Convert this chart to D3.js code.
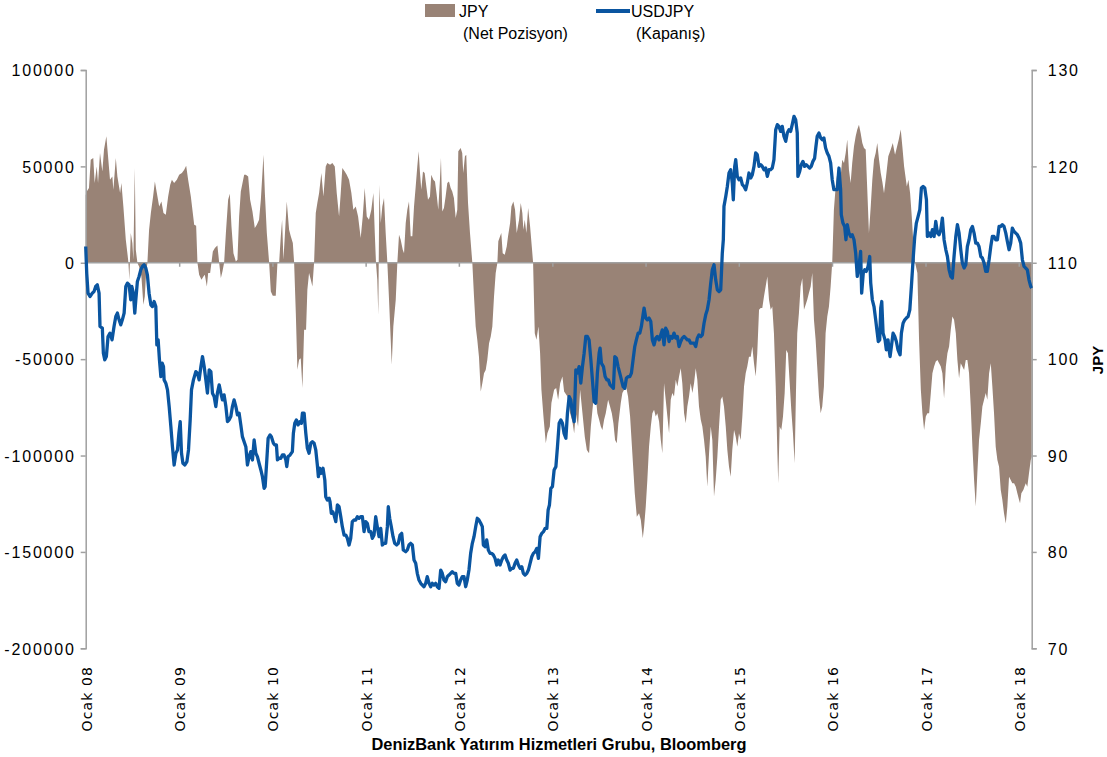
<!DOCTYPE html>
<html><head><meta charset="utf-8">
<script src="https://cdn.jsdelivr.net/npm/d3@7"></script>
<style>
body{margin:0;background:#fff;}
svg{display:block;}
.ylab{font-family:"Liberation Sans",Arial,sans-serif;font-size:16px;letter-spacing:1.8px;fill:#000;}
.xlab{font-family:"DejaVu Sans",Verdana,sans-serif;font-size:14px;fill:#000;letter-spacing:1.1px;}
.leg{font-family:"Liberation Sans",Arial,sans-serif;font-size:16px;fill:#000;}
.src{font-family:"Liberation Sans",Arial,sans-serif;font-size:16px;font-weight:bold;fill:#000;}
</style></head><body>
<svg id="c" width="1107" height="757"></svg>
<script>
const yearLabels = ["Ocak 08","Ocak 09","Ocak 10","Ocak 11","Ocak 12","Ocak 13","Ocak 14","Ocak 15","Ocak 16","Ocak 17","Ocak 18"];
const leftTicks = [100000,50000,0,-50000,-100000,-150000,-200000];
const rightTicks = [130,120,110,100,90,80,70];
const seriesNames = ["JPY","(Net Pozisyon)","USDJPY","(Kapanış)"];

// JPY net position (decimal year, contracts)
const jpyNet = [[2008.000,35000],[2008.011,37000],[2008.035,38800],[2008.054,53500],[2008.081,54300],[2008.096,41400],[2008.118,50000],[2008.132,41400],[2008.153,56900],[2008.178,47400],[2008.196,58700],[2008.221,65600],[2008.239,55200],[2008.260,43100],[2008.285,44800],[2008.296,37900],[2008.322,54300],[2008.339,44800],[2008.368,36200],[2008.382,41400],[2008.403,29200],[2008.429,11900],[2008.446,5000],[2008.457,0],[2008.467,-8800],[2008.482,15400],[2008.499,10200],[2008.510,1600],[2008.525,49100],[2008.536,6700],[2008.553,0],[2008.571,-1900],[2008.596,-7100],[2008.617,-21800],[2008.632,-17500],[2008.646,-5300],[2008.660,0],[2008.678,17100],[2008.697,25800],[2008.721,34400],[2008.740,42200],[2008.761,36200],[2008.786,29200],[2008.810,31800],[2008.832,25800],[2008.857,24900],[2008.882,34400],[2008.904,40500],[2008.922,43100],[2008.946,41400],[2008.975,43100],[2009.000,45700],[2009.029,46600],[2009.054,48300],[2009.075,50300],[2009.096,43100],[2009.125,34400],[2009.161,19700],[2009.182,19200],[2009.196,0],[2009.214,-6200],[2009.239,-8800],[2009.260,-7100],[2009.275,-6200],[2009.297,-12300],[2009.311,-5300],[2009.332,-5300],[2009.346,0],[2009.361,5900],[2009.383,7600],[2009.410,9000],[2009.429,0],[2009.447,-7900],[2009.464,-4500],[2009.482,0],[2009.501,15400],[2009.525,32700],[2009.543,35800],[2009.561,18800],[2009.582,5000],[2009.608,700],[2009.625,1600],[2009.643,24000],[2009.661,37000],[2009.697,45700],[2009.715,45700],[2009.740,44800],[2009.761,32700],[2009.786,26600],[2009.811,18000],[2009.833,19700],[2009.857,22300],[2009.876,32700],[2009.893,46600],[2009.904,56100],[2009.919,36200],[2009.940,15400],[2009.965,0],[2009.983,-14900],[2010.004,-17100],[2010.036,-17100],[2010.054,0],[2010.072,0],[2010.090,13800],[2010.104,22300],[2010.118,1600],[2010.133,13800],[2010.154,31800],[2010.179,17100],[2010.197,13800],[2010.219,10200],[2010.233,0],[2010.251,-26100],[2010.268,-55500],[2010.286,-50300],[2010.304,-49500],[2010.322,-65000],[2010.340,-34800],[2010.361,-34800],[2010.375,-14000],[2010.393,-5300],[2010.412,-8800],[2010.429,-12300],[2010.447,0],[2010.465,25800],[2010.482,31000],[2010.501,36200],[2010.525,46600],[2010.547,34400],[2010.572,50000],[2010.589,51700],[2010.618,50900],[2010.643,51700],[2010.669,50000],[2010.690,36200],[2010.715,24000],[2010.733,36200],[2010.750,49100],[2010.776,47400],[2010.797,45700],[2010.822,43100],[2010.847,36200],[2010.868,27500],[2010.894,29200],[2010.919,24000],[2010.947,12800],[2010.969,24000],[2010.990,38800],[2011.012,24000],[2011.036,22300],[2011.061,27500],[2011.083,36200],[2011.098,15400],[2011.111,0],[2011.125,-8800],[2011.136,-27000],[2011.147,40500],[2011.162,20600],[2011.179,29200],[2011.197,33600],[2011.215,15400],[2011.233,0],[2011.251,-19200],[2011.269,-40000],[2011.280,-52900],[2011.297,-33000],[2011.323,-19200],[2011.340,0],[2011.358,14500],[2011.376,12000],[2011.398,6700],[2011.412,5000],[2011.430,20600],[2011.447,27500],[2011.465,31800],[2011.483,13800],[2011.501,13800],[2011.519,29200],[2011.537,39600],[2011.554,50000],[2011.569,57800],[2011.583,46600],[2011.597,37900],[2011.615,47400],[2011.633,46600],[2011.651,39600],[2011.669,32700],[2011.690,34400],[2011.704,45700],[2011.726,43100],[2011.744,42200],[2011.762,35300],[2011.779,27500],[2011.797,43100],[2011.808,54300],[2011.822,26600],[2011.840,28400],[2011.858,34400],[2011.876,41400],[2011.894,42200],[2011.912,38800],[2011.929,37000],[2011.947,33600],[2011.966,23200],[2011.983,27500],[2011.994,57800],[2012.019,59600],[2012.036,57000],[2012.047,46600],[2012.065,55200],[2012.079,56100],[2012.098,31000],[2012.119,15400],[2012.144,0],[2012.162,-17500],[2012.180,-33100],[2012.197,-40000],[2012.215,-48700],[2012.234,-66800],[2012.251,-62500],[2012.269,-57300],[2012.287,-55600],[2012.304,-50400],[2012.323,-41700],[2012.341,-38300],[2012.358,-33100],[2012.376,-17500],[2012.394,-5300],[2012.412,0],[2012.422,11100],[2012.441,13800],[2012.454,15400],[2012.469,5000],[2012.491,4200],[2012.512,8500],[2012.526,13800],[2012.548,20600],[2012.562,29200],[2012.583,31800],[2012.601,27500],[2012.619,15400],[2012.644,22300],[2012.662,31000],[2012.679,25800],[2012.690,17100],[2012.705,22300],[2012.722,15400],[2012.741,28400],[2012.762,18800],[2012.780,8500],[2012.794,0],[2012.812,-36500],[2012.830,-40000],[2012.851,-33100],[2012.869,-46900],[2012.883,-65900],[2012.905,-79800],[2012.930,-93600],[2012.947,-88400],[2012.973,-85000],[2012.990,-72800],[2013.019,-65900],[2013.041,-65000],[2013.062,-71100],[2013.084,-62500],[2013.108,-59000],[2013.126,-66800],[2013.162,-69400],[2013.191,-78000],[2013.215,-82400],[2013.234,-88400],[2013.252,-78000],[2013.276,-85000],[2013.298,-65900],[2013.323,-78000],[2013.348,-90200],[2013.370,-97100],[2013.394,-98800],[2013.413,-85000],[2013.441,-71100],[2013.466,-69400],[2013.483,-78000],[2013.502,-81500],[2013.520,-85000],[2013.537,-86700],[2013.555,-81500],[2013.573,-78000],[2013.598,-71100],[2013.619,-74600],[2013.638,-78000],[2013.655,-83200],[2013.673,-91900],[2013.691,-93600],[2013.708,-83200],[2013.734,-72800],[2013.751,-67600],[2013.770,-65900],[2013.791,-64200],[2013.812,-69400],[2013.834,-79800],[2013.858,-98800],[2013.884,-119600],[2013.906,-131700],[2013.930,-130000],[2013.949,-133400],[2013.970,-142900],[2013.984,-136900],[2014.002,-126500],[2014.019,-112700],[2014.037,-95400],[2014.056,-85000],[2014.073,-78000],[2014.091,-76300],[2014.109,-79800],[2014.126,-78000],[2014.145,-82400],[2014.163,-91900],[2014.180,-98800],[2014.198,-62500],[2014.216,-71100],[2014.234,-79800],[2014.252,-88400],[2014.270,-71100],[2014.287,-67600],[2014.305,-69400],[2014.324,-60700],[2014.341,-64200],[2014.359,-59000],[2014.377,-54700],[2014.394,-62500],[2014.413,-78000],[2014.431,-83200],[2014.448,-74600],[2014.466,-69400],[2014.484,-62500],[2014.502,-67600],[2014.520,-62500],[2014.538,-54700],[2014.555,-60700],[2014.573,-74600],[2014.592,-81500],[2014.609,-85000],[2014.627,-91900],[2014.645,-100600],[2014.662,-116200],[2014.681,-98800],[2014.699,-85000],[2014.716,-91900],[2014.734,-121300],[2014.752,-112700],[2014.770,-100600],[2014.788,-85000],[2014.806,-71100],[2014.823,-69400],[2014.841,-74600],[2014.860,-85000],[2014.877,-97100],[2014.895,-105800],[2014.913,-111000],[2014.930,-97100],[2014.949,-86700],[2014.967,-90200],[2014.984,-95400],[2015.002,-88400],[2015.020,-91900],[2015.038,-79800],[2015.056,-64200],[2015.074,-57300],[2015.091,-53800],[2015.109,-48700],[2015.128,-48700],[2015.145,-43500],[2015.163,-52100],[2015.181,-59000],[2015.198,-46900],[2015.217,-24400],[2015.235,-23500],[2015.252,-23500],[2015.270,-17500],[2015.288,-12300],[2015.306,-7100],[2015.324,-19200],[2015.342,-24400],[2015.359,-22700],[2015.377,-36500],[2015.396,-64200],[2015.413,-97100],[2015.423,-114400],[2015.438,-85000],[2015.456,-86700],[2015.474,-79800],[2015.492,-67600],[2015.509,-45200],[2015.527,-46900],[2015.546,-62500],[2015.563,-76300],[2015.581,-88400],[2015.599,-104000],[2015.613,-67600],[2015.627,-36500],[2015.645,-26100],[2015.663,-12300],[2015.681,-8000],[2015.699,-24400],[2015.717,-21800],[2015.734,-19200],[2015.752,-15700],[2015.771,-12300],[2015.788,-5300],[2015.806,-29600],[2015.824,-40000],[2015.841,-53800],[2015.860,-69400],[2015.878,-78000],[2015.895,-74600],[2015.913,-64200],[2015.931,-36500],[2015.949,-27900],[2015.967,-22700],[2015.985,-12300],[2016.002,0],[2016.020,27500],[2016.039,39600],[2016.056,46600],[2016.074,50000],[2016.092,44800],[2016.109,53500],[2016.128,51700],[2016.146,57000],[2016.163,63900],[2016.181,48300],[2016.199,41400],[2016.216,51700],[2016.235,60400],[2016.253,65600],[2016.270,69100],[2016.288,71600],[2016.306,67300],[2016.324,62100],[2016.342,59600],[2016.360,58700],[2016.377,37900],[2016.395,15400],[2016.414,29200],[2016.431,43100],[2016.449,53500],[2016.467,57000],[2016.484,62100],[2016.503,53500],[2016.521,46600],[2016.538,42000],[2016.556,36000],[2016.578,44800],[2016.602,55200],[2016.628,58700],[2016.650,62100],[2016.674,56100],[2016.692,59600],[2016.714,63900],[2016.735,69100],[2016.752,60400],[2016.771,50000],[2016.800,39600],[2016.817,43100],[2016.835,36200],[2016.853,24000],[2016.870,10200],[2016.889,0],[2016.913,-5300],[2016.931,-40000],[2016.950,-65900],[2016.967,-78000],[2016.985,-86700],[2017.003,-79800],[2017.020,-78000],[2017.039,-78000],[2017.057,-67600],[2017.074,-57300],[2017.092,-53800],[2017.110,-51200],[2017.128,-50400],[2017.146,-52100],[2017.164,-53800],[2017.181,-57300],[2017.199,-70300],[2017.218,-53800],[2017.235,-46900],[2017.253,-43500],[2017.271,-34800],[2017.288,-27900],[2017.306,-29600],[2017.325,-36500],[2017.342,-50400],[2017.360,-59900],[2017.378,-52100],[2017.395,-53800],[2017.414,-55600],[2017.432,-50400],[2017.449,-50400],[2017.467,-57300],[2017.485,-74600],[2017.503,-95400],[2017.521,-112700],[2017.539,-126500],[2017.556,-109200],[2017.574,-91900],[2017.593,-83200],[2017.610,-74600],[2017.628,-71100],[2017.646,-67600],[2017.663,-71100],[2017.682,-57300],[2017.700,-52100],[2017.717,-64200],[2017.735,-78000],[2017.753,-95400],[2017.771,-102300],[2017.789,-105800],[2017.807,-117900],[2017.824,-123000],[2017.842,-130000],[2017.861,-135200],[2017.878,-126500],[2017.896,-111000],[2017.914,-112700],[2017.931,-114400],[2017.950,-114400],[2017.968,-116200],[2017.985,-119600],[2018.003,-123000],[2018.014,-124800],[2018.028,-119600],[2018.049,-117900],[2018.075,-114400],[2018.092,-116200],[2018.110,-109200],[2018.129,-102300],[2018.139,-100600]];

// USDJPY close (decimal year, yen)
const usdjpy = [[2008.000,111.69],[2008.011,108.93],[2008.025,106.85],[2008.046,106.50],[2008.071,106.85],[2008.089,107.02],[2008.107,107.54],[2008.124,107.72],[2008.143,106.85],[2008.153,103.39],[2008.178,103.22],[2008.189,100.62],[2008.204,99.93],[2008.221,100.27],[2008.239,102.35],[2008.260,102.70],[2008.282,102.00],[2008.303,103.39],[2008.322,104.42],[2008.339,104.78],[2008.357,104.08],[2008.375,103.56],[2008.392,104.08],[2008.411,104.78],[2008.429,107.54],[2008.446,107.89],[2008.464,107.72],[2008.482,106.16],[2008.493,107.54],[2008.510,106.85],[2008.525,104.78],[2008.536,106.16],[2008.553,108.06],[2008.571,108.58],[2008.589,109.27],[2008.607,109.62],[2008.625,109.79],[2008.643,109.45],[2008.660,108.75],[2008.678,106.85],[2008.697,105.64],[2008.714,105.46],[2008.732,105.98],[2008.750,105.46],[2008.761,101.48],[2008.775,102.00],[2008.789,99.93],[2008.804,98.19],[2008.818,99.58],[2008.832,99.23],[2008.839,97.85],[2008.857,97.51],[2008.875,96.81],[2008.893,95.08],[2008.911,93.00],[2008.928,90.92],[2008.946,89.02],[2008.965,90.24],[2008.982,90.58],[2008.997,92.32],[2009.011,93.52],[2009.025,90.24],[2009.040,89.20],[2009.061,89.02],[2009.083,89.37],[2009.100,90.58],[2009.118,93.70],[2009.132,96.81],[2009.153,97.85],[2009.179,98.71],[2009.196,98.55],[2009.214,97.85],[2009.233,99.23],[2009.250,100.27],[2009.268,99.23],[2009.286,97.85],[2009.303,96.47],[2009.322,98.89],[2009.340,98.71],[2009.357,96.47],[2009.375,96.12],[2009.393,95.08],[2009.410,96.47],[2009.429,97.33],[2009.447,96.47],[2009.464,95.77],[2009.482,96.29],[2009.501,95.08],[2009.518,93.52],[2009.536,93.70],[2009.554,94.04],[2009.571,95.08],[2009.589,95.77],[2009.608,95.08],[2009.625,94.22],[2009.643,94.39],[2009.661,93.18],[2009.678,91.96],[2009.715,90.92],[2009.732,89.02],[2009.750,89.89],[2009.768,90.41],[2009.786,89.54],[2009.804,91.62],[2009.822,90.24],[2009.839,89.89],[2009.857,89.20],[2009.876,88.50],[2009.893,87.81],[2009.911,86.60],[2009.922,86.77],[2009.940,89.54],[2009.954,91.79],[2009.975,92.14],[2009.989,91.96],[2010.011,91.28],[2010.026,91.10],[2010.043,91.10],[2010.054,89.54],[2010.072,89.72],[2010.090,89.72],[2010.107,90.06],[2010.125,90.06],[2010.144,89.54],[2010.154,88.85],[2010.168,89.89],[2010.190,90.06],[2010.214,90.41],[2010.225,92.32],[2010.240,93.35],[2010.257,93.70],[2010.275,93.18],[2010.294,93.52],[2010.311,93.35],[2010.322,94.39],[2010.340,94.39],[2010.358,92.32],[2010.375,90.76],[2010.393,90.24],[2010.412,91.28],[2010.429,91.44],[2010.447,91.28],[2010.465,90.58],[2010.482,89.02],[2010.493,87.81],[2010.508,88.68],[2010.525,88.16],[2010.543,88.68],[2010.562,87.47],[2010.572,85.73],[2010.589,85.39],[2010.608,85.57],[2010.618,85.21],[2010.632,84.00],[2010.647,84.17],[2010.661,83.83],[2010.680,83.14],[2010.697,84.87],[2010.715,84.69],[2010.733,83.66],[2010.750,82.62],[2010.769,81.75],[2010.787,81.75],[2010.804,81.41],[2010.822,80.72],[2010.840,81.41],[2010.857,83.14],[2010.876,83.31],[2010.894,83.31],[2010.911,83.66],[2010.929,83.49],[2010.947,83.66],[2010.965,83.66],[2010.983,82.10],[2011.001,83.14],[2011.018,82.97],[2011.036,82.10],[2011.055,82.10],[2011.072,81.41],[2011.090,81.75],[2011.108,83.66],[2011.125,82.62],[2011.144,81.58],[2011.162,82.45],[2011.179,80.72],[2011.197,80.89],[2011.215,80.89],[2011.233,82.62],[2011.243,84.69],[2011.258,83.49],[2011.275,82.62],[2011.294,81.58],[2011.312,80.89],[2011.333,80.72],[2011.350,80.89],[2011.369,81.75],[2011.387,81.93],[2011.404,80.20],[2011.430,80.02],[2011.447,80.20],[2011.465,80.72],[2011.483,80.89],[2011.501,80.72],[2011.519,79.16],[2011.537,78.82],[2011.554,77.78],[2011.572,77.08],[2011.591,76.74],[2011.608,76.56],[2011.626,76.39],[2011.644,76.74],[2011.661,77.43],[2011.680,76.74],[2011.698,76.39],[2011.715,76.74],[2011.733,76.56],[2011.751,76.74],[2011.769,76.39],[2011.787,76.22],[2011.805,78.12],[2011.822,77.78],[2011.840,77.08],[2011.858,76.91],[2011.876,77.43],[2011.894,77.60],[2011.912,77.78],[2011.929,77.95],[2011.947,77.78],[2011.966,77.78],[2011.983,76.74],[2012.001,76.56],[2012.019,77.08],[2012.036,77.43],[2012.055,77.43],[2012.073,76.39],[2012.090,77.08],[2012.108,78.12],[2012.126,79.85],[2012.144,80.89],[2012.162,81.58],[2012.180,82.62],[2012.197,83.49],[2012.215,83.31],[2012.234,82.97],[2012.251,82.62],[2012.262,80.72],[2012.280,80.54],[2012.298,81.24],[2012.315,80.20],[2012.333,79.85],[2012.352,79.85],[2012.369,79.68],[2012.387,79.33],[2012.405,78.64],[2012.422,79.16],[2012.441,78.64],[2012.459,79.16],[2012.476,79.50],[2012.494,79.68],[2012.512,79.16],[2012.529,78.82],[2012.548,78.12],[2012.566,78.30],[2012.583,78.30],[2012.601,78.82],[2012.619,79.16],[2012.637,78.64],[2012.655,78.30],[2012.673,78.46],[2012.690,77.78],[2012.708,77.60],[2012.727,77.78],[2012.744,78.12],[2012.762,78.82],[2012.780,79.50],[2012.797,79.85],[2012.816,80.02],[2012.834,80.37],[2012.851,79.33],[2012.869,81.58],[2012.887,81.93],[2012.905,82.10],[2012.923,82.45],[2012.941,82.45],[2012.955,84.35],[2012.969,84.87],[2012.984,86.60],[2013.001,86.77],[2013.019,88.50],[2013.038,88.85],[2013.055,90.92],[2013.073,93.35],[2013.091,93.70],[2013.108,93.35],[2013.126,92.30],[2013.145,91.79],[2013.162,94.39],[2013.180,96.12],[2013.198,95.77],[2013.215,94.39],[2013.234,93.52],[2013.252,98.89],[2013.269,98.55],[2013.287,99.23],[2013.305,97.51],[2013.323,99.23],[2013.341,100.62],[2013.359,102.35],[2013.376,102.35],[2013.394,102.00],[2013.413,99.93],[2013.430,97.85],[2013.448,95.60],[2013.466,95.43],[2013.483,98.55],[2013.502,100.62],[2013.512,101.14],[2013.526,99.58],[2013.548,99.23],[2013.566,98.19],[2013.584,97.85],[2013.601,97.85],[2013.619,97.33],[2013.638,97.15],[2013.655,96.98],[2013.670,100.27],[2013.687,100.10],[2013.705,99.23],[2013.723,98.55],[2013.741,97.85],[2013.759,97.15],[2013.777,96.98],[2013.794,98.02],[2013.812,98.19],[2013.831,98.19],[2013.848,98.55],[2013.866,99.93],[2013.884,101.31],[2013.901,102.00],[2013.920,102.70],[2013.938,102.70],[2013.955,103.39],[2013.973,104.60],[2013.984,105.30],[2014.002,104.26],[2014.019,104.08],[2014.037,104.26],[2014.056,103.90],[2014.073,102.00],[2014.091,101.48],[2014.109,102.18],[2014.126,102.35],[2014.145,102.00],[2014.163,102.52],[2014.180,103.04],[2014.198,101.48],[2014.216,103.22],[2014.234,102.87],[2014.252,101.83],[2014.270,102.35],[2014.287,102.18],[2014.305,102.70],[2014.324,102.18],[2014.341,102.35],[2014.359,101.31],[2014.377,101.83],[2014.394,102.18],[2014.413,102.35],[2014.431,102.18],[2014.448,102.00],[2014.466,102.00],[2014.484,101.66],[2014.502,101.66],[2014.520,101.66],[2014.538,101.31],[2014.555,102.18],[2014.573,102.52],[2014.592,102.35],[2014.609,102.52],[2014.627,103.73],[2014.645,104.60],[2014.662,105.12],[2014.681,106.16],[2014.699,107.89],[2014.716,109.27],[2014.734,109.79],[2014.752,108.23],[2014.770,107.20],[2014.788,107.02],[2014.806,107.20],[2014.823,111.01],[2014.834,112.39],[2014.841,115.85],[2014.860,116.88],[2014.877,117.92],[2014.895,119.31],[2014.913,119.66],[2014.930,118.28],[2014.941,116.54],[2014.956,120.00],[2014.967,120.70],[2014.984,118.96],[2015.002,118.62],[2015.020,118.80],[2015.038,118.10],[2015.056,117.92],[2015.074,117.58],[2015.091,118.28],[2015.109,119.31],[2015.128,118.80],[2015.145,119.14],[2015.163,120.00],[2015.181,121.39],[2015.198,121.21],[2015.217,120.00],[2015.235,120.18],[2015.252,120.00],[2015.270,119.66],[2015.288,119.83],[2015.306,118.96],[2015.324,119.66],[2015.342,119.66],[2015.359,119.83],[2015.377,120.70],[2015.396,123.81],[2015.413,124.33],[2015.431,124.15],[2015.449,123.63],[2015.466,124.15],[2015.484,123.12],[2015.503,122.60],[2015.520,123.47],[2015.538,123.81],[2015.556,123.63],[2015.573,124.33],[2015.592,125.19],[2015.610,124.85],[2015.627,123.47],[2015.634,118.96],[2015.653,119.48],[2015.670,120.18],[2015.688,120.52],[2015.706,120.00],[2015.723,120.18],[2015.742,120.00],[2015.760,119.83],[2015.777,120.00],[2015.795,120.52],[2015.813,120.83],[2015.827,122.04],[2015.841,123.12],[2015.860,123.47],[2015.878,122.95],[2015.895,122.77],[2015.913,122.95],[2015.931,121.91],[2015.949,121.39],[2015.967,121.04],[2015.985,120.35],[2016.002,118.62],[2016.020,117.58],[2016.039,117.58],[2016.056,117.58],[2016.074,119.83],[2016.092,117.58],[2016.099,114.98],[2016.117,114.12],[2016.135,113.77],[2016.149,112.39],[2016.163,113.95],[2016.181,113.08],[2016.199,112.73],[2016.216,112.91],[2016.235,112.39],[2016.253,111.01],[2016.270,108.58],[2016.288,109.62],[2016.306,111.17],[2016.317,106.85],[2016.334,108.93],[2016.349,109.27],[2016.366,109.10],[2016.385,109.62],[2016.403,110.65],[2016.414,107.89],[2016.431,106.16],[2016.449,105.46],[2016.467,104.08],[2016.484,102.70],[2016.495,101.83],[2016.510,102.00],[2016.521,105.30],[2016.532,105.98],[2016.546,102.70],[2016.567,102.00],[2016.581,100.97],[2016.599,102.00],[2016.610,100.97],[2016.621,100.27],[2016.635,101.31],[2016.653,102.70],[2016.671,102.35],[2016.688,101.83],[2016.706,100.97],[2016.728,100.45],[2016.742,102.70],[2016.760,103.73],[2016.778,104.08],[2016.795,104.26],[2016.813,104.42],[2016.832,105.12],[2016.849,107.54],[2016.867,110.31],[2016.885,112.73],[2016.902,114.12],[2016.921,114.81],[2016.939,115.50],[2016.956,117.76],[2016.974,117.92],[2016.992,117.76],[2017.010,116.54],[2017.020,112.73],[2017.039,113.08],[2017.057,112.73],[2017.074,113.43],[2017.092,112.73],[2017.110,114.29],[2017.128,113.08],[2017.146,112.91],[2017.164,113.43],[2017.181,114.64],[2017.199,112.39],[2017.218,111.35],[2017.235,110.65],[2017.253,109.27],[2017.271,108.58],[2017.288,108.41],[2017.306,110.65],[2017.325,112.73],[2017.342,113.95],[2017.360,113.08],[2017.378,111.35],[2017.395,109.97],[2017.414,109.45],[2017.432,109.79],[2017.449,111.69],[2017.467,112.39],[2017.485,113.43],[2017.503,113.77],[2017.521,113.08],[2017.539,112.04],[2017.556,112.04],[2017.574,111.69],[2017.593,110.65],[2017.610,110.49],[2017.628,109.97],[2017.646,109.10],[2017.663,109.10],[2017.682,110.31],[2017.700,111.69],[2017.717,112.73],[2017.735,112.73],[2017.753,112.39],[2017.771,112.39],[2017.789,113.77],[2017.807,113.77],[2017.824,113.95],[2017.842,113.77],[2017.861,113.08],[2017.878,112.21],[2017.896,111.35],[2017.914,112.04],[2017.931,113.60],[2017.950,113.25],[2017.968,113.08],[2017.985,112.91],[2018.003,112.56],[2018.021,112.04],[2018.039,110.31],[2018.057,109.62],[2018.075,109.45],[2018.092,109.27],[2018.110,108.23],[2018.129,107.54],[2018.139,107.37]];

function toDate(t){const y=Math.floor(t);const s=Date.UTC(y,0,1),e=Date.UTC(y+1,0,1);return new Date(s+(t-y)*(e-s));}

const svg=d3.select("#c");
const L=85.7,R=1031.7,T=70,B=648.3;
const x=d3.scaleUtc().domain([toDate(2008.0),toDate(2018.139)]).range([L,R]);
const y=d3.scaleLinear().domain([-200000,100000]).range([B,T]);
const y2=d3.scaleLinear().domain([70,130]).range([B,T]);
const axisCol="#a0a0a0", areaCol="#998376", lineCol="#0a55a0";

// area
svg.append("path").datum(jpyNet)
  .attr("fill",areaCol)
  .attr("d",d3.area().x(d=>x(toDate(d[0]))).y0(y(0)).y1(d=>y(d[1])));

// zero line (category axis) with year ticks
const yearDates=d3.utcYear.range(toDate(2008),toDate(2018.5));
const xAxis=svg.append("g").attr("transform",`translate(0,${y(0)})`)
  .call(d3.axisBottom(x).tickValues(yearDates).tickSize(4).tickFormat(""));
xAxis.select(".domain").attr("stroke",axisCol).attr("stroke-width",1.5).attr("d",`M${L},0H${R}`);
xAxis.selectAll(".tick line").attr("stroke",axisCol).attr("stroke-width",1.5);

// left axis
const gl=svg.append("g").attr("transform",`translate(${L},0)`)
  .call(d3.axisLeft(y).tickValues(leftTicks).tickSize(5).tickPadding(5).tickFormat(d=>String(d)));
gl.select(".domain").attr("stroke",axisCol).attr("stroke-width",1.5);
gl.selectAll(".tick line").attr("stroke",axisCol).attr("stroke-width",1.5);
gl.selectAll(".tick text").attr("class","ylab").attr("font-family",null).attr("font-size",null).attr("fill",null).attr("dy","0.36em");

// right axis
const gr=svg.append("g").attr("transform",`translate(${R},0)`)
  .call(d3.axisRight(y2).tickValues(rightTicks).tickSize(5).tickPadding(11).tickFormat(d=>String(d)));
gr.select(".domain").attr("stroke",axisCol).attr("stroke-width",1.5);
gr.selectAll(".tick line").attr("stroke",axisCol).attr("stroke-width",1.5);
gr.selectAll(".tick text").attr("class","ylab").attr("font-family",null).attr("font-size",null).attr("fill",null).attr("dy","0.36em");

// line
svg.append("path").datum(usdjpy)
  .attr("fill","none").attr("stroke",lineCol).attr("stroke-width",3.3).attr("stroke-linejoin","round")
  .attr("d",d3.line().x(d=>x(toDate(d[0]))).y(d=>y2(d[1])));

// x labels
svg.append("g").selectAll("text").data(yearDates).join("text")
  .attr("class","xlab").attr("text-anchor","end")
  .attr("transform",d=>`translate(${x(d)+6},${666}) rotate(-90)`)
  .text((d,i)=>yearLabels[i]);

// right axis title
svg.append("text").attr("class","src").attr("text-anchor","middle")
  .attr("transform",`translate(1103,360) rotate(-90)`).style("font-size","15px").text("JPY");

// legend
svg.append("rect").attr("x",425).attr("y",4).attr("width",30).attr("height",13).attr("fill",areaCol);
svg.append("text").attr("class","leg").attr("x",459).attr("y",17).text(seriesNames[0]);
svg.append("text").attr("class","leg").attr("x",463).attr("y",39).text(seriesNames[1]);
svg.append("line").attr("x1",596).attr("x2",630).attr("y1",11).attr("y2",11).attr("stroke",lineCol).attr("stroke-width",4);
svg.append("text").attr("class","leg").attr("x",631).attr("y",17).text(seriesNames[2]);
svg.append("text").attr("class","leg").attr("x",636).attr("y",39).text(seriesNames[3]);

// source
svg.append("text").attr("class","src").attr("text-anchor","middle").attr("x",559).attr("y",750)
  .style("font-size","16.4px").text("DenizBank Yatırım Hizmetleri Grubu, Bloomberg");
</script>
</body></html>
